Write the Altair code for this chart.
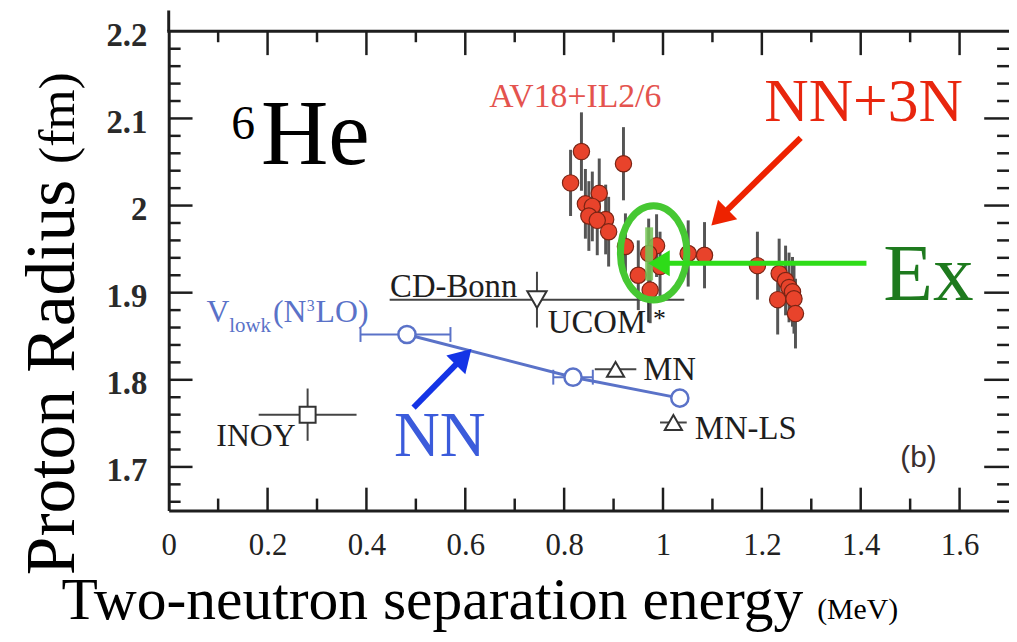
import altair as alt
import pandas as pd

# ------------------------------------------------------------------ data
# AV18+IL2/6 (NN+3N) results: S2n (MeV), proton radius (fm), error (fm)
av18_s2n = [0.835, 0.920, 0.813, 0.871, 0.843, 0.857, 0.850, 0.884, 0.867, 0.890,
            0.924, 0.987, 0.971, 0.994, 0.950, 0.974, 1.051, 1.084, 1.191, 1.235,
            1.248, 1.255, 1.262, 1.232, 1.265, 1.268]
av18_rp = [2.062, 2.048, 2.026, 2.014, 2.002, 1.999, 1.988, 1.984, 1.983, 1.970,
           1.953, 1.954, 1.945, 1.930, 1.920, 1.903, 1.945, 1.943, 1.931, 1.922,
           1.914, 1.906, 1.901, 1.892, 1.893, 1.876]
av18_err = [0.045, 0.042, 0.038, 0.040, 0.040, 0.040, 0.040, 0.040, 0.040, 0.040,
            0.038, 0.036, 0.040, 0.040, 0.040, 0.038, 0.038, 0.038, 0.039, 0.040,
            0.040, 0.040, 0.040, 0.040, 0.040, 0.040]

# Vlowk(N3LO) NN-only results
vlowk_s2n = [0.482, 0.818, 1.034]
vlowk_rp = [1.852, 1.803, 1.779]
vlowk_bar_lo = [0.388, 0.778]
vlowk_bar_hi = [0.570, 0.858]
vlowk_bar_rp = [1.852, 1.803]

# other NN interactions
other_name = ["INOY", "CD-Bonn", "MN", "MN-LS"]
other_shape = ["square", "triangle-down", "triangle-up", "triangle-up"]
other_s2n = [0.281, 0.745, 0.904, 1.021]
other_rp = [1.760, 1.892, 1.812, 1.751]
other_s2n_err = [0.099, 0.298, 0.042, 0.027]
other_rp_err = [0.030, 0.032, 0.0, 0.0]
ucom_s2n = [0.970]
ucom_rp_lo = [1.866]
ucom_rp_hi = [1.903]

# experiment
exp_s2n = [0.972]
exp_rp_lo = [1.914]
exp_rp_hi = [1.975]

# axis ticks / labels
x_labels = [0, 0.2, 0.4, 0.6, 0.8, 1.0, 1.2, 1.4, 1.6]
y_labels = [1.7, 1.8, 1.9, 2.0, 2.1, 2.2]
x_major_ticks = [0.2, 0.4, 0.6, 0.8, 1.0, 1.2, 1.4, 1.6]
x_minor_ticks = [0.1, 0.3, 0.5, 0.7, 0.9, 1.1, 1.3, 1.5]
y_major_ticks = [1.7, 1.8, 1.9, 2.0, 2.1]
y_minor_ticks = [1.66, 1.68, 1.72, 1.74, 1.76, 1.78, 1.82, 1.84, 1.86, 1.88,
                 1.92, 1.94, 1.96, 1.98, 2.02, 2.04, 2.06, 2.08, 2.12, 2.14,
                 2.16, 2.18]

# ------------------------------------------------------------------ layout
W, H = 847, 483
AX = "#1e1e1e"
SERIF = "Liberation Serif"
BLUE = "#5a72c8"

xs = alt.Scale(domain=[0, 1.7], nice=False, zero=False)
ys = alt.Scale(domain=[1.65, 2.2], nice=False, zero=False)
xaxis = alt.Axis(values=x_labels, format=".1~f", ticks=False, tickSize=0, grid=False,
                 domain=True, domainColor=AX, domainWidth=3, labelFont=SERIF,
                 labelFontSize=31, labelColor="#222222", labelPadding=20,
                 labelFlush=False, title="")
yaxis = alt.Axis(values=y_labels, format=".1~f", ticks=False, tickSize=0, grid=False,
                 domain=True, domainColor=AX, domainWidth=3, labelFont=SERIF,
                 labelFontSize=33, labelFontWeight="bold", labelColor="#2a2a2a",
                 labelPadding=22, labelOffset=4, title="")
X = alt.X("x:Q", scale=xs, axis=xaxis)
Y = alt.Y("y:Q", scale=ys, axis=yaxis)

layers = []

# red error bars
red = pd.DataFrame({"x": av18_s2n, "y": av18_rp, "e": av18_err})
red["ylo"] = red["y"] - red["e"]
red["yhi"] = red["y"] + red["e"]
layers.append(alt.Chart(red).mark_rule(color="#555555", strokeWidth=3).encode(
    x=X, y=alt.Y("ylo:Q", scale=ys, axis=yaxis), y2="yhi:Q"))

# other interactions error bars
oth = pd.DataFrame({"x": other_s2n, "y": other_rp, "ex": other_s2n_err,
                    "ey": other_rp_err, "name": other_name, "shape": other_shape})
oth["xlo"] = oth["x"] - oth["ex"]
oth["xhi"] = oth["x"] + oth["ex"]
oth["ylo"] = oth["y"] - oth["ey"]
oth["yhi"] = oth["y"] + oth["ey"]
layers.append(alt.Chart(oth).mark_rule(color="#444444", strokeWidth=2).encode(
    x=alt.X("xlo:Q", scale=xs, axis=xaxis), x2="xhi:Q", y=Y))
layers.append(alt.Chart(oth[oth["ey"] > 0]).mark_rule(color="#444444", strokeWidth=2).encode(
    x=X, y=alt.Y("ylo:Q", scale=ys, axis=yaxis), y2="yhi:Q"))
uc = pd.DataFrame({"x": ucom_s2n, "ylo": ucom_rp_lo, "yhi": ucom_rp_hi})
layers.append(alt.Chart(uc).mark_rule(color="#333333", strokeWidth=2).encode(
    x=X, y=alt.Y("ylo:Q", scale=ys, axis=yaxis), y2="yhi:Q"))

# Vlowk bars + caps
vb = pd.DataFrame({"xlo": vlowk_bar_lo, "xhi": vlowk_bar_hi, "y": vlowk_bar_rp})
layers.append(alt.Chart(vb).mark_rule(color=BLUE, strokeWidth=2).encode(
    x=alt.X("xlo:Q", scale=xs, axis=xaxis), x2="xhi:Q", y=Y))
caps = pd.DataFrame({"x": vlowk_bar_lo + vlowk_bar_hi, "y": vlowk_bar_rp + vlowk_bar_rp})
layers.append(alt.Chart(caps).mark_point(shape="M0,-1L0,1", size=225, filled=False,
                                         color=BLUE, strokeWidth=2, opacity=1).encode(x=X, y=Y))
vl = pd.DataFrame({"x": vlowk_s2n, "y": vlowk_rp})
layers.append(alt.Chart(vl).mark_line(color=BLUE, strokeWidth=3).encode(x=X, y=Y))
layers.append(alt.Chart(vl).mark_point(shape="circle", size=300, filled=True, fill="white",
                                       stroke=BLUE, strokeWidth=2.5, opacity=1).encode(x=X, y=Y))

# other interaction markers
for shp, sz in [("square", 260), ("triangle-down", 380), ("triangle-up", 300)]:
    sub = oth[oth["shape"] == shp]
    layers.append(alt.Chart(sub).mark_point(shape=shp, size=sz, filled=True, fill="white",
                                            stroke="#333333", strokeWidth=2, opacity=1).encode(x=X, y=Y))

# AV18+IL2/6 points
layers.append(alt.Chart(red).mark_circle(size=270, color="#e8432b", stroke="#7a2414",
                                         strokeWidth=1.2, opacity=1).encode(x=X, y=Y))

# experimental band
ex = pd.DataFrame({"x": exp_s2n, "ylo": exp_rp_lo, "yhi": exp_rp_hi})
layers.append(alt.Chart(ex).mark_rule(color="#74c455", strokeWidth=8, opacity=0.85).encode(
    x=X, y=alt.Y("ylo:Q", scale=ys, axis=yaxis), y2="yhi:Q"))

# green ellipse around the experiment
ELLIPSE = ("M0,-1 C0.389,-1 0.705,-0.552 0.705,0 C0.705,0.552 0.389,1 0,1 "
           "C-0.389,1 -0.705,0.552 -0.705,0 C-0.705,-0.552 -0.389,-1 0,-1 Z")
el = pd.DataFrame({"x": [0.981], "y": [1.9457]})
layers.append(alt.Chart(el).mark_point(shape=ELLIPSE, size=9025, filled=False,
                                       stroke="#46c832", strokeWidth=7, opacity=1).encode(x=X, y=Y))

# arrows: shaft + head
arrows = pd.DataFrame({
    "x": [1.2785, 0.4954, 1.4116], "y": [2.0778, 1.7681, 1.9338],
    "x2": [1.1235, 0.5869, 1.010], "y2": [1.9914, 1.8208, 1.9338],
    "hx": [1.0978, 0.6124, 0.9699], "hy": [1.977, 1.8353, 1.9338],
    "color": ["#ee2200", "#1434e6", "#2edc18"], "w": [6, 6, 5],
    "angle": [225.5, 44.6, 270], "hs": [2116, 2000, 1900]})
layers.append(alt.Chart(arrows).mark_rule(strokeCap="butt").encode(
    x=X, y=Y, x2="x2:Q", y2="y2:Q",
    color=alt.Color("color:N", scale=None), strokeWidth=alt.StrokeWidth("w:Q", scale=None)))
HEAD = "M0,0L-0.6,1L0.6,1Z"
for i in range(3):
    r = arrows.iloc[[i]].rename(columns={"x": "sx", "y": "sy"}).rename(columns={"hx": "x", "hy": "y"})
    layers.append(alt.Chart(r).mark_point(shape=HEAD, filled=True, opacity=1, strokeWidth=0,
                                          angle=float(arrows["angle"][i]),
                                          size=float(arrows["hs"][i]),
                                          color=arrows["color"][i]).encode(x=X, y=Y))

# annotation text (serif)
ann = pd.DataFrame([
    ("AV18+IL2/6", 0.6486, 2.1128, 34, "#e4534e"),
    ("He", 0.1867, 2.0478, 94, "#000000"),
    ("6", 0.1265, 2.076, 48, "#000000"),
    ("NN+3N", 1.2048, 2.0968, 62, "#e8260e"),
    ("Ex", 1.4458, 1.8916, 82, "#1e7a1e"),
    ("NN", 0.4558, 1.7125, 64, "#3b5bdb"),
    ("CD-Bonn", 0.4478, 1.895, 33, "#1e1e1e"),
    ("UCOM", 0.767, 1.854, 33, "#1e1e1e"),
    ("*", 0.980, 1.861, 26, "#111111"),
    ("MN", 0.9598, 1.800, 33, "#1e1e1e"),
    ("MN-LS", 1.0643, 1.732, 33, "#1e1e1e"),
    ("INOY", 0.0964, 1.724, 32, "#1e1e1e"),
    ("V", 0.0763, 1.8665, 32, BLUE),
    ("lowk", 0.1225, 1.855, 21, BLUE),
    ("(N", 0.2108, 1.8665, 32, BLUE),
    ("3", 0.2791, 1.879, 16, BLUE),
    ("LO)", 0.2972, 1.8665, 32, BLUE),
    ("Two-neutron separation energy", -0.2169, 1.5255, 60, "#000000"),
    ("(MeV)", 1.3120, 1.5255, 30, "#000000"),
], columns=["text", "x", "y", "size", "color"])
layers.append(alt.Chart(ann).mark_text(font=SERIF, align="left", baseline="alphabetic").encode(
    x=X, y=Y, text="text:N", size=alt.Size("size:Q", scale=None),
    color=alt.Color("color:N", scale=None)))

panel = pd.DataFrame({"x": [1.48], "y": [1.70], "text": ["(b)"]})
layers.append(alt.Chart(panel).mark_text(font="Liberation Sans", fontSize=30, color="#3a2f2f",
                                         align="left", baseline="alphabetic").encode(
    x=X, y=Y, text="text:N"))

ytitle = pd.DataFrame([("Proton Radius", -0.1908, 1.5757, 70), ("(fm)", -0.1908, 2.0478, 52)],
                      columns=["text", "x", "y", "size"])
layers.append(alt.Chart(ytitle).mark_text(font=SERIF, align="left", baseline="alphabetic",
                                          angle=270, color="#000000").encode(
    x=X, y=Y, text="text:N", size=alt.Size("size:Q", scale=None)))

# inward ticks on all four sides + top frame
def xt(vals, y0, y1):
    return alt.Chart(pd.DataFrame({"x": vals})).mark_rule(color=AX, strokeWidth=2.5).encode(
        x=X, y=alt.value(y0), y2=alt.value(y1))

def yt(vals, x0, x1):
    return alt.Chart(pd.DataFrame({"y": vals})).mark_rule(color=AX, strokeWidth=2.5).encode(
        y=Y, x=alt.value(x0), x2=alt.value(x1))

layers += [xt(x_major_ticks, H, H - 23), xt(x_minor_ticks, H, H - 12),
           xt(x_major_ticks, 0, 24), xt(x_minor_ticks, 0, 11),
           yt(y_major_ticks, 0, 24), yt(y_minor_ticks, 0, 12),
           yt(y_major_ticks, W, W - 25), yt(y_minor_ticks, W, W - 12)]
layers.append(alt.Chart(pd.DataFrame({"y": [2.2]})).mark_rule(color=AX, strokeWidth=3).encode(
    y=Y, x=alt.value(-1.5), x2=alt.value(W)))
layers.append(alt.Chart(pd.DataFrame({"y": [2.2]})).mark_rule(color=AX, strokeWidth=3).encode(
    y=Y, y2=alt.value(-21), x=alt.value(0)))

chart = alt.layer(*layers).properties(
    width=W, height=H,
    autosize=alt.AutoSizeParams(type="none"),
    padding={"left": 162, "top": 21, "right": 0, "bottom": 122},
).configure_view(stroke=None)

chart.save("out.html", embed_options={"renderer": "svg", "actions": False})
